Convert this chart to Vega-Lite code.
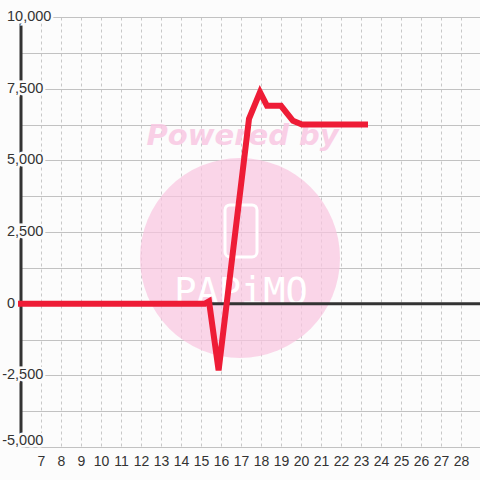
{
  "$schema": "https://vega.github.io/schema/vega-lite/v6.json",
  "width": 460,
  "height": 430,
  "autosize": {"type": "none"},
  "padding": {"left": 21, "top": 17, "right": 0, "bottom": 33},
  "background": "#fcfcfc",
  "config": {"view": {"stroke": null}},
  "data": {"values": [{}]},
  "datasets": {
    "series": [
      {"day": 6, "value": 0},
      {"day": 15.2, "value": 0},
      {"day": 15.4, "value": 80},
      {"day": 15.88, "value": -2330},
      {"day": 17.4, "value": 6450},
      {"day": 17.95, "value": 7380},
      {"day": 18.3, "value": 6900},
      {"day": 19.0, "value": 6900},
      {"day": 19.6, "value": 6380},
      {"day": 20.05, "value": 6250},
      {"day": 23.2, "value": 6250}
    ],
    "ylabels": [
      {"v": 10000, "label": "10,000"},
      {"v": 7500, "label": "7,500"},
      {"v": 5000, "label": "5,000"},
      {"v": 2500, "label": "2,500"},
      {"v": 0, "label": "0"},
      {"v": -2500, "label": "-2,500"},
      {"v": -5000, "label": "-5,000"}
    ]
  },
  "resolve": {"axis": {"x": "independent", "y": "independent"}},
  "layer": [
    {
      "data": {"name": "series"},
      "mark": {"type": "line", "color": "#ee1c36", "strokeWidth": 6, "strokeCap": "square", "opacity": 0},
      "encoding": {
        "x": {
          "field": "day", "type": "quantitative",
          "scale": {"domain": [6, 29], "nice": false, "zero": false},
          "axis": {
            "values": [7,8,9,10,11,12,13,14,15,16,17,18,19,20,21,22,23,24,25,26,27,28],
            "grid": true, "gridDash": [3, 3], "gridColor": "#c8c8c8", "gridWidth": 1,
            "ticks": false, "domain": false, "title": null,
            "labelFont": "Liberation Sans", "labelFontSize": 14, "labelColor": "#333333",
            "labelPadding": 7, "format": "d", "labelFlush": false, "labelOverlap": false
          }
        },
        "y": {
          "field": "value", "type": "quantitative",
          "scale": {"domain": [-5000, 10000], "nice": false, "zero": false},
          "axis": {
            "values": [-5000, -3750, -2500, -1250, 0, 1250, 2500, 3750, 5000, 6250, 7500, 8750, 10000],
            "grid": true, "gridColor": "#c2c2c2", "gridWidth": 1,
            "labels": false, "ticks": false, "domain": false, "title": null
          }
        }
      }
    },
    {
      "mark": {"type": "point", "shape": "circle", "filled": true, "size": 40000, "color": "#f9c4e0", "opacity": 0.7},
      "encoding": {
        "x": {"datum": 16.95, "type": "quantitative", "axis": null},
        "y": {"datum": 1594, "type": "quantitative", "axis": null}
      }
    },
    {
      "mark": {"type": "rect", "fillOpacity": 0, "stroke": "#ffffff", "strokeWidth": 3, "cornerRadius": 5},
      "encoding": {
        "x": {"datum": 16.2, "type": "quantitative", "axis": null},
        "x2": {"datum": 17.8},
        "y": {"datum": 3443, "type": "quantitative", "axis": null},
        "y2": {"datum": 1629}
      }
    },
    {
      "mark": {"type": "text", "text": "Powered by", "font": "DejaVu Sans", "fontWeight": "bold", "fontStyle": "italic", "fontSize": 29, "color": "#f9c8e3", "opacity": 0.85, "align": "center", "baseline": "alphabetic"},
      "encoding": {
        "x": {"datum": 17.08, "type": "quantitative", "axis": null},
        "y": {"datum": 5535, "type": "quantitative", "axis": null}
      }
    },
    {
      "mark": {"type": "text", "text": "PAPiMO", "font": "DejaVu Sans Mono", "fontSize": 37, "color": "#ffffff", "align": "center", "baseline": "alphabetic"},
      "encoding": {
        "x": {"datum": 17.0, "type": "quantitative", "axis": null},
        "y": {"datum": -10, "type": "quantitative", "axis": null}
      }
    },
    {
      "mark": {"type": "rule", "color": "#333333", "strokeWidth": 3},
      "encoding": {"y": {"datum": 0, "type": "quantitative", "axis": null}}
    },
    {
      "mark": {"type": "rule", "color": "#333333", "strokeWidth": 3},
      "encoding": {"x": {"datum": 6, "type": "quantitative", "axis": null}}
    },
    {
      "data": {"name": "series"},
      "mark": {"type": "line", "color": "#ee1c36", "strokeWidth": 6, "strokeCap": "square"},
      "encoding": {
        "x": {"field": "day", "type": "quantitative", "axis": null},
        "y": {"field": "value", "type": "quantitative", "axis": null}
      }
    },
    {
      "data": {"name": "ylabels"},
      "mark": {"type": "text", "font": "Liberation Sans", "fontSize": 14.5, "align": "left", "baseline": "middle", "fill": "#fcfcfc", "stroke": "#fcfcfc", "strokeWidth": 5, "dx": {"expr": "datum.v < 0 ? -18.8 : -14"}, "dy": {"expr": "datum.v == -5000 ? -6 : 0"}},
      "encoding": {
        "x": {"datum": 6, "type": "quantitative", "axis": null},
        "y": {"field": "v", "type": "quantitative", "axis": null},
        "text": {"field": "label"}
      }
    },
    {
      "data": {"name": "ylabels"},
      "mark": {"type": "text", "font": "Liberation Sans", "fontSize": 14.5, "align": "left", "baseline": "middle", "fill": "#333333", "dx": {"expr": "datum.v < 0 ? -18.8 : -14"}, "dy": {"expr": "datum.v == -5000 ? -6 : 0"}},
      "encoding": {
        "x": {"datum": 6, "type": "quantitative", "axis": null},
        "y": {"field": "v", "type": "quantitative", "axis": null},
        "text": {"field": "label"}
      }
    }
  ]
}
